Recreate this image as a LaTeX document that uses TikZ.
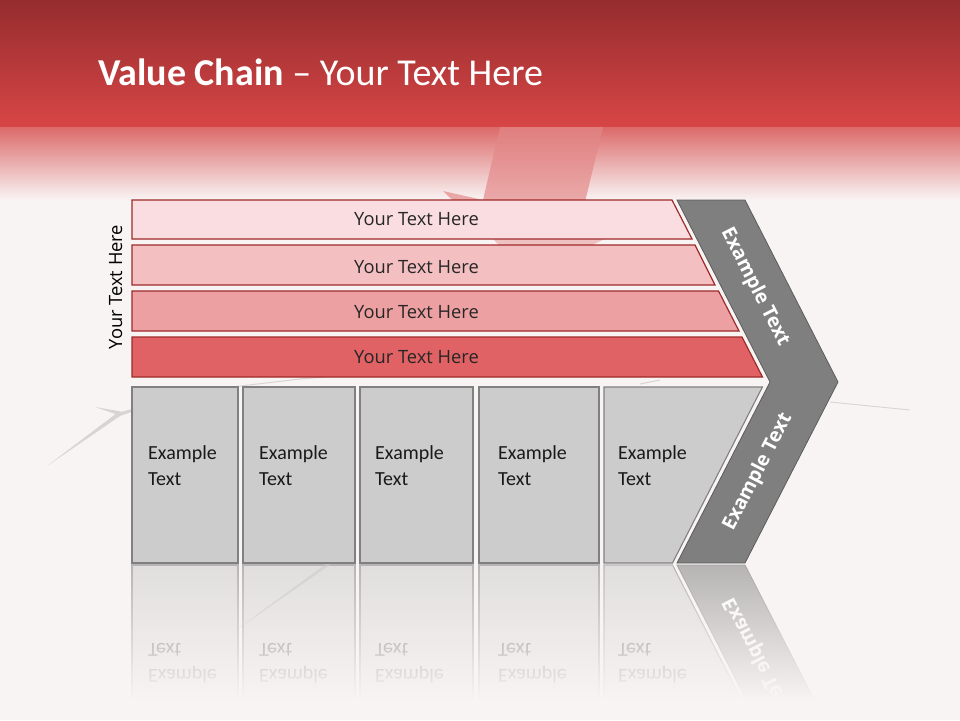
\documentclass[tikz,border=0pt]{standalone}
\usepackage{fontspec}
\setmainfont{Carlito}
\newfontfamily\osans{Open Sans}
\usetikzlibrary{fadings}
\definecolor{bg}{HTML}{F9F4F4}
\definecolor{hdtop}{HTML}{952C2E}
\definecolor{hdbot}{HTML}{D84646}
\definecolor{fdA}{HTML}{DC6A6A}
\definecolor{fdB}{HTML}{F2CACA}
\definecolor{arA}{HTML}{DA6262}
\definecolor{arB}{HTML}{EDB4B4}
\definecolor{arC}{HTML}{F4D6D6}
\definecolor{barline}{HTML}{9E2A2A}
\definecolor{barA}{HTML}{FADDE0}
\definecolor{barB}{HTML}{F4BFC1}
\definecolor{barC}{HTML}{ECA0A1}
\definecolor{barD}{HTML}{E06264}
\definecolor{bartext}{HTML}{262626}
\definecolor{boxfill}{HTML}{CCCCCC}
\definecolor{boxline}{HTML}{808080}
\definecolor{chevfill}{HTML}{7F7F7F}
\definecolor{chevline}{HTML}{5C5C5C}
\definecolor{crackc}{HTML}{D9D3D3}
\tikzfading[name=reflfade, top color=transparent!55, bottom color=transparent!0]
\tikzset{
  barshape/.style={draw=barline, line width=1.2pt},
  gbox/.style={fill=boxfill, draw=boxline, line width=1.1pt},
  chev/.style={fill=chevfill, draw=chevline, line width=0.8pt},
  bartxt/.style={font=\osans\fontsize{18.3}{22}\selectfont, text=bartext, anchor=base, inner sep=0},
  boxtxt/.style={font=\fontsize{20}{24}\selectfont, text=black!90, anchor=base west, inner sep=0},
  chevtxt/.style={font=\osans\bfseries\fontsize{19.5}{23}\selectfont, text=white, inner sep=0},
  crackfill/.style={fill=crackc},
  crackline/.style={draw=crackc, line width=1.2pt},
}
\newcommand\boxrow[1]{%
  \draw[gbox] (132,387) rectangle (238,563);
  \draw[gbox] (243,387) rectangle (355,563);
  \draw[gbox] (360,387) rectangle (473,563);
  \draw[gbox] (479,387) rectangle (599,563);
  \draw[gbox] (604,387) -- (762.4,387) -- (672.5,563) -- (604,563) -- cycle;
  \node[boxtxt] (#1a1) at (148,459) {Example};
  \node[boxtxt] (#1b1) at (148,485) {Text};
  \node[boxtxt] (#1a2) at (259,459) {Example};
  \node[boxtxt] (#1b2) at (259,485) {Text};
  \node[boxtxt] (#1a3) at (375,459) {Example};
  \node[boxtxt] (#1b3) at (375,485) {Text};
  \node[boxtxt] (#1a4) at (498,459) {Example};
  \node[boxtxt] (#1b4) at (498,485) {Text};
  \node[boxtxt] (#1a5) at (618,459) {Example};
  \node[boxtxt] (#1b5) at (618,485) {Text};
}
\begin{document}
\begin{tikzpicture}[x=1pt,y=-1pt]
\useasboundingbox (0,0) rectangle (960,720);
\fill[bg] (0,0) rectangle (960,720);
% header
\shade[top color=hdtop, bottom color=hdbot] (0,0) rectangle (960,127.5);
\shade[top color=fdA, middle color=fdB, bottom color=bg] (0,127) rectangle (960,200);
% faint background arrow
\begin{scope}
  \clip (0,127.5) rectangle (960,720);
  \shade[top color=arA, middle color=arB, bottom color=arC]
    (511,80) -- (614.6,80) -- (583,210) -- (640,222) -- (530,275) -- (443,191) -- (483,200) -- cycle;
\end{scope}
% background cracks
\fill[crackfill] (47,466) -- (117,413) -- (134,408.5) -- (134,411) -- (120,416) -- cycle;
\fill[crackfill] (95,407) -- (121,411.5) -- (117,414.5) -- cycle;
\draw[crackline, line width=0.9pt] (830,402) -- (870,406) -- (910,410);
\draw[crackline, line width=1pt] (232,387) -- (300,379) -- (325,377);
\draw[crackline, line width=1pt] (640,384) -- (660,380);
% title
\node[anchor=base west, text=white, font=\fontsize{38}{40}\selectfont, inner sep=0] (title) at (98,85)
  {\textbf{Value Chain} – Your Text Here};
% side label
\node[font=\osans\fontsize{18.3}{22}\selectfont, text=black, rotate=90, anchor=base, inner sep=0] (side) at (122,287) {Your Text Here};
% bars
\draw[barshape, fill=barA] (132,200) -- (672,200) -- (692,239) -- (132,239) -- cycle;
\draw[barshape, fill=barB] (132,245) -- (695,245) -- (715,285) -- (132,285) -- cycle;
\draw[barshape, fill=barC] (132,291) -- (718.5,291) -- (739,331) -- (132,331) -- cycle;
\draw[barshape, fill=barD] (132,337) -- (742,337) -- (762.5,377) -- (132,377) -- cycle;
\node[bartxt] (t1) at (416.5,225) {Your Text Here};
\node[bartxt] (t2) at (416.5,273) {Your Text Here};
\node[bartxt] (t3) at (416.5,318) {Your Text Here};
\node[bartxt] (t4) at (416.5,363) {Your Text Here};
% boxes
\boxrow{m}
% chevron
\draw[chev] (677,200) -- (745,200) -- (838,382) -- (745,563) -- (677,563) -- (770,382) -- cycle;
\node[chevtxt, rotate=-62.9] (chA) at (755,287) {Example Text};
\node[chevtxt, rotate=62.9] (chB) at (758,472) {Example Text};
% reflection
\begin{scope}
  \clip (100,564.5) rectangle (900,710);
  \begin{scope}[cm={1,0,0,-1,(0,1128)}, transform shape]
    \boxrow{r}
    \draw[chev] (770,382) -- (838,382) -- (745,563) -- (677,563) -- cycle;
    \node[chevtxt, rotate=62.9] (rch) at (758,472) {Example Text};
  \end{scope}
\end{scope}
\fill[bg, path fading=reflfade] (90,564.5) rectangle (910,700);
\fill[bg] (90,699.5) rectangle (910,720);
\fill[crackc!90!black!80, opacity=0.6] (236,630) -- (326,564) -- (331,564) -- cycle;
\end{tikzpicture}
\end{document}
